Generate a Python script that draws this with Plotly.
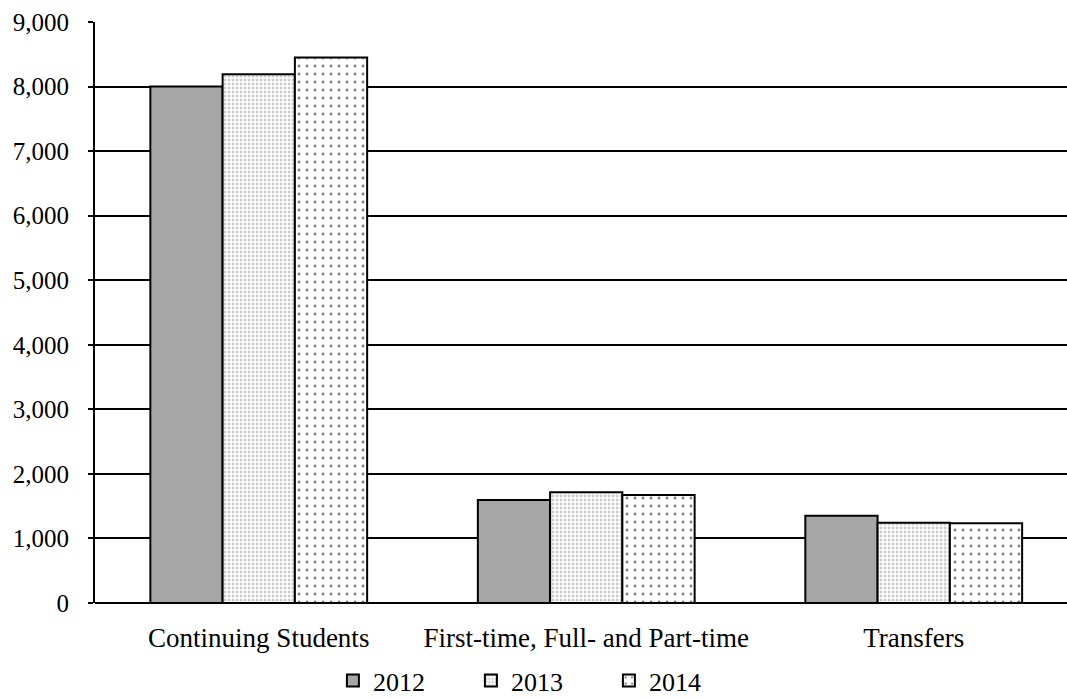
import plotly.graph_objects as go

categories = ["Continuing Students", "First-time, Full- and Part-time", "Transfers"]
years = ["2012", "2013", "2014"]
values_2012 = [8000, 1595, 1352]
values_2013 = [8190, 1715, 1244]
values_2014 = [8450, 1673, 1234]

series = [values_2012, values_2013, values_2014]

font_family = "Liberation Serif"

fills = [
    dict(color="#a6a6a6"),
    dict(color="white", pattern=dict(shape=".", fgcolor="#9a9a9a", bgcolor="white", size=4, solidity=0.45)),
    dict(color="white", pattern=dict(shape=".", fgcolor="black", bgcolor="white", size=8, solidity=0.1)),
]

fig = go.Figure()
for name, vals, fill in zip(years, series, fills):
    marker = dict(line=dict(color="black", width=2))
    marker.update(fill)
    fig.add_trace(go.Bar(x=categories, y=vals, name=name, marker=marker))

fig.update_layout(
    width=1067,
    height=698,
    margin=dict(l=95, r=0, t=22, b=95),
    barmode="group",
    bargap=0.338,
    bargroupgap=0,
    plot_bgcolor="white",
    paper_bgcolor="white",
    font=dict(family=font_family, size=25, color="black"),
    legend=dict(
        orientation="h",
        xref="container",
        yref="container",
        x=0.312,
        xanchor="left",
        y=0.025,
        yanchor="middle",
        entrywidth=93,
        itemwidth=30,
        font=dict(size=26),
    ),
    xaxis=dict(
        range=[-0.5, 2.468],
        showline=False,
        ticks="",
        ticklabelstandoff=16,
        tickfont=dict(size=27),
    ),
    yaxis=dict(
        range=[0, 9000],
        dtick=1000,
        tickformat=",",
        showgrid=True,
        gridcolor="black",
        gridwidth=2,
        showline=True,
        linecolor="black",
        linewidth=2,
        zeroline=True,
        zerolinecolor="black",
        zerolinewidth=2,
        ticks="outside",
        ticklen=5,
        tickwidth=2,
        tickcolor="black",
        ticklabelstandoff=14,
        tickfont=dict(size=25),
    ),
)

fig.write_html("out.html")
